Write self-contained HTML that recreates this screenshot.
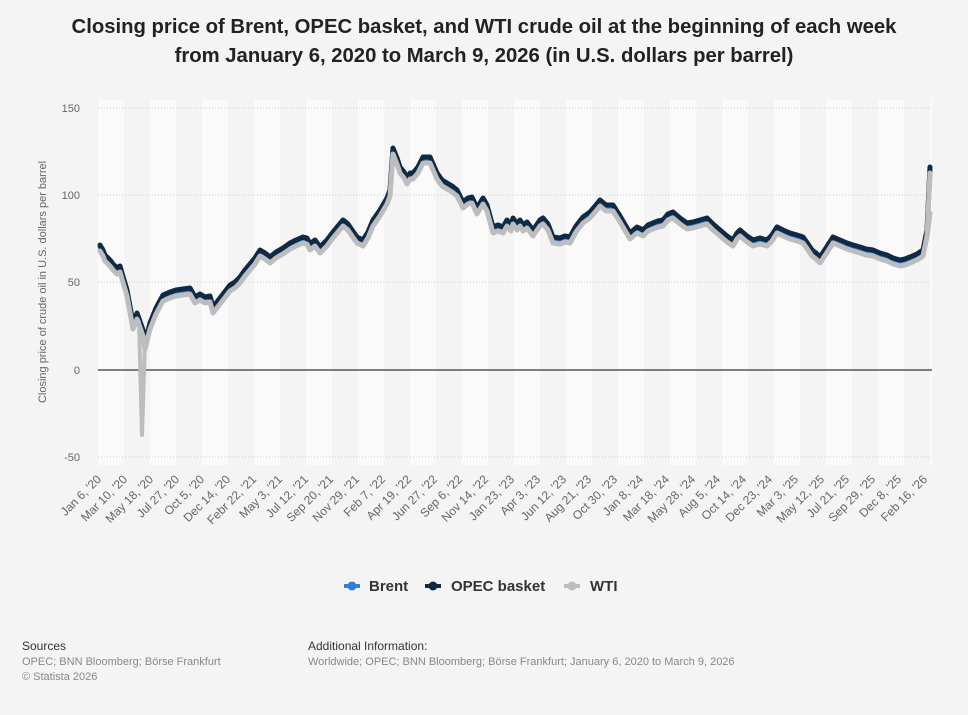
<!DOCTYPE html>
<html><head><meta charset="utf-8"><style>
body{margin:0;background:#f4f4f4;font-family:"Liberation Sans",Arial,sans-serif;}
svg{display:block}
</style></head><body>
<svg width="968" height="715" viewBox="0 0 968 715" xmlns="http://www.w3.org/2000/svg" font-family="Liberation Sans, Arial, sans-serif">
<rect width="968" height="715" fill="#f4f4f4"/>
<text x="484" y="33" text-anchor="middle" font-size="20.3" font-weight="bold" fill="#222">Closing price of Brent, OPEC basket, and WTI crude oil at the beginning of each week</text>
<text x="484" y="62" text-anchor="middle" font-size="20.3" font-weight="bold" fill="#222">from January 6, 2020 to March 9, 2026 (in U.S. dollars per barrel)</text>
<rect x="98" y="100" width="834" height="365" fill="#fafafa"/>
<g fill="#f4f4f4">
<rect x="124" y="100" width="26" height="365"/><rect x="176" y="100" width="26" height="365"/><rect x="228" y="100" width="26" height="365"/><rect x="280" y="100" width="26" height="365"/><rect x="332" y="100" width="26" height="365"/><rect x="384" y="100" width="26" height="365"/><rect x="436" y="100" width="26" height="365"/><rect x="488" y="100" width="26" height="365"/><rect x="540" y="100" width="26" height="365"/><rect x="592" y="100" width="26" height="365"/><rect x="644" y="100" width="26" height="365"/><rect x="696" y="100" width="26" height="365"/><rect x="748" y="100" width="26" height="365"/><rect x="800" y="100" width="26" height="365"/><rect x="852" y="100" width="26" height="365"/><rect x="904" y="100" width="26" height="365"/>
</g>
<g stroke="#ccc" stroke-dasharray="1,2" stroke-width="1">
<line x1="98" y1="108" x2="932" y2="108"/><line x1="98" y1="195" x2="932" y2="195"/><line x1="98" y1="282" x2="932" y2="282"/><line x1="98" y1="457" x2="932" y2="457"/>
</g>
<line x1="98" y1="370" x2="932" y2="370" stroke="#555" stroke-width="1.5"/>
<g font-size="11" fill="#666" text-anchor="end">
<text x="80" y="112">150</text><text x="80" y="199">100</text><text x="80" y="286">50</text><text x="80" y="374">0</text><text x="80" y="461">-50</text>
</g>
<text transform="translate(46,282) rotate(-90)" text-anchor="middle" font-size="11" fill="#666">Closing price of crude oil in U.S. dollars per barrel</text>
<defs>
<polyline id="ln" fill="none" stroke-linejoin="round" stroke-linecap="round" points="100,245 103,250 105,255 110,260 113,264 117,268 120,266 122,273 127,290 133,323 137,313 143,330 145,343 150,323 156,308 163,295 170,292 176,290 183,289 190,288 195,297 200,294 205,297 210,296 213,307 220,298 230,285 235,282 240,277 245,270 250,264 255,258 260,250 265,253 270,257 276,252 283,248 290,243 296,240 303,237 307,238 310,244 315,240 320,247 327,240 333,232 338,226 343,220 348,224 352,230 357,237 363,240 368,232 373,220 380,210 387,198 390,190 393,148 397,158 400,167 404,172 407,178 410,173 413,173 418,167 423,157 430,157 437,173 442,180 447,183 452,186 457,190 463,202 468,198 472,197 477,208 483,198 487,205 493,227 498,225 503,227 507,220 511,225 513,218 517,224 520,220 523,225 527,222 533,230 540,220 543,218 548,224 553,237 560,238 565,236 570,237 576,226 583,217 590,212 596,205 600,200 606,205 613,205 620,216 630,233 637,227 643,230 648,225 653,223 658,221 663,220 668,214 673,212 680,218 687,223 693,222 700,220 707,218 713,224 720,230 727,236 733,240 737,233 740,230 747,236 753,240 760,238 767,240 772,235 777,227 783,230 790,233 797,235 803,237 808,244 812,250 816,253 820,257 826,248 833,237 840,240 847,243 853,245 860,247 866,249 873,250 880,253 887,255 893,258 900,260 905,259 910,257 917,254 923,250 927,230 930,167"/>
</defs>
<use href="#ln" transform="translate(0,2)" stroke="#2f7ed8" stroke-width="5"/>
<use href="#ln" stroke="#0f2a44" stroke-width="5"/>
<polyline points="139,322 142,435 145,340" fill="none" stroke="#bdbdbd" stroke-width="4" stroke-linejoin="round" stroke-linecap="round"/>
<use href="#ln" transform="translate(0,6)" stroke="#bdbdbd" stroke-width="5"/>
<polyline points="927,238 930,213" fill="none" stroke="#bdbdbd" stroke-width="5" stroke-linecap="round"/>
<g font-size="12" fill="#666">
<text transform="translate(102,480) rotate(-45)" text-anchor="end">Jan 6, '20</text>
<text transform="translate(128,480) rotate(-45)" text-anchor="end">Mar 10, '20</text>
<text transform="translate(154,480) rotate(-45)" text-anchor="end">May 18, '20</text>
<text transform="translate(180,480) rotate(-45)" text-anchor="end">Jul 27, '20</text>
<text transform="translate(205,480) rotate(-45)" text-anchor="end">Oct 5, '20</text>
<text transform="translate(231,480) rotate(-45)" text-anchor="end">Dec 14, '20</text>
<text transform="translate(257,480) rotate(-45)" text-anchor="end">Febr 22, '21</text>
<text transform="translate(283,480) rotate(-45)" text-anchor="end">May 3, '21</text>
<text transform="translate(309,480) rotate(-45)" text-anchor="end">Jul 12, '21</text>
<text transform="translate(334,480) rotate(-45)" text-anchor="end">Sep 20, '21</text>
<text transform="translate(360,480) rotate(-45)" text-anchor="end">Nov 29, '21</text>
<text transform="translate(386,480) rotate(-45)" text-anchor="end">Feb 7, '22</text>
<text transform="translate(412,480) rotate(-45)" text-anchor="end">Apr 19, '22</text>
<text transform="translate(438,480) rotate(-45)" text-anchor="end">Jun 27, '22</text>
<text transform="translate(463,480) rotate(-45)" text-anchor="end">Sep 6, '22</text>
<text transform="translate(489,480) rotate(-45)" text-anchor="end">Nov 14, '22</text>
<text transform="translate(515,480) rotate(-45)" text-anchor="end">Jan 23, '23</text>
<text transform="translate(541,480) rotate(-45)" text-anchor="end">Apr 3, '23</text>
<text transform="translate(567,480) rotate(-45)" text-anchor="end">Jun 12, '23</text>
<text transform="translate(592,480) rotate(-45)" text-anchor="end">Aug 21, '23</text>
<text transform="translate(618,480) rotate(-45)" text-anchor="end">Oct 30, '23</text>
<text transform="translate(644,480) rotate(-45)" text-anchor="end">Jan 8, '24</text>
<text transform="translate(670,480) rotate(-45)" text-anchor="end">Mar 18, '24</text>
<text transform="translate(696,480) rotate(-45)" text-anchor="end">May 28, '24</text>
<text transform="translate(721,480) rotate(-45)" text-anchor="end">Aug 5, '24</text>
<text transform="translate(747,480) rotate(-45)" text-anchor="end">Oct 14, '24</text>
<text transform="translate(773,480) rotate(-45)" text-anchor="end">Dec 23, '24</text>
<text transform="translate(799,480) rotate(-45)" text-anchor="end">Mar 3, '25</text>
<text transform="translate(825,480) rotate(-45)" text-anchor="end">May 12, '25</text>
<text transform="translate(850,480) rotate(-45)" text-anchor="end">Jul 21, '25</text>
<text transform="translate(876,480) rotate(-45)" text-anchor="end">Sep 29, '25</text>
<text transform="translate(902,480) rotate(-45)" text-anchor="end">Dec 8, '25</text>
<text transform="translate(928,480) rotate(-45)" text-anchor="end">Feb 16, '26</text>
</g>
<g font-size="15" font-weight="bold" fill="#333">
<line x1="344" y1="586" x2="360" y2="586" stroke="#2f7ed8" stroke-width="4"/><circle cx="352" cy="586" r="4.5" fill="#2f7ed8"/>
<text x="369" y="591">Brent</text>
<line x1="425" y1="586" x2="441" y2="586" stroke="#0f2a44" stroke-width="4"/><circle cx="433" cy="586" r="4.5" fill="#0f2a44"/>
<text x="451" y="591">OPEC basket</text>
<line x1="564" y1="586" x2="580" y2="586" stroke="#bdbdbd" stroke-width="4"/><circle cx="572" cy="586" r="4.5" fill="#bdbdbd"/>
<text x="590" y="591">WTI</text>
</g>
<g font-size="12">
<text x="22" y="650" fill="#333">Sources</text>
<text x="22" y="665" fill="#888" font-size="11">OPEC; BNN Bloomberg; Börse Frankfurt</text>
<text x="22" y="680" fill="#888" font-size="11">© Statista 2026</text>
<text x="308" y="650" fill="#333">Additional Information:</text>
<text x="308" y="665" fill="#888" font-size="11">Worldwide; OPEC; BNN Bloomberg; Börse Frankfurt; January 6, 2020 to March 9, 2026</text>
</g>
</svg>
</body></html>
